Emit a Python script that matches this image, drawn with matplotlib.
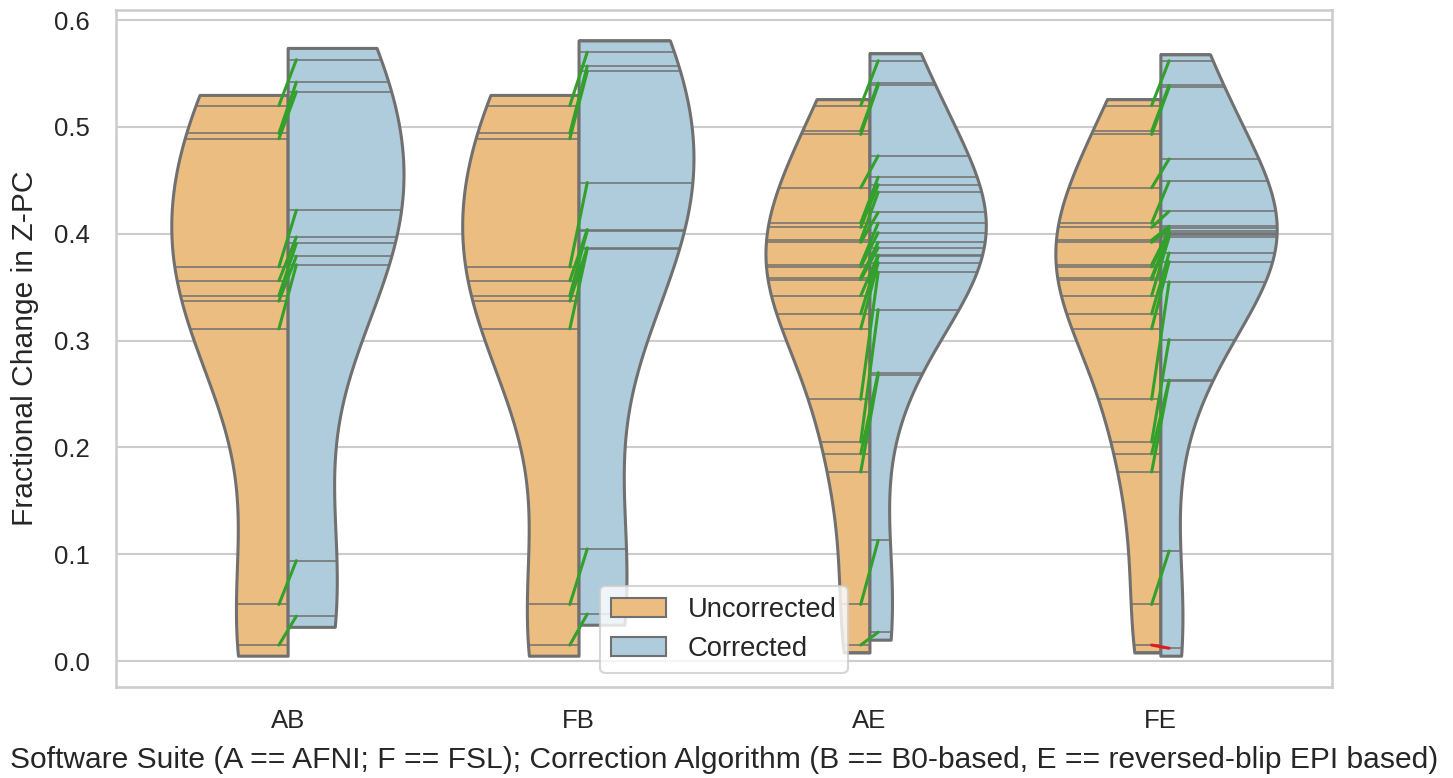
import matplotlib
matplotlib.use("Agg")
import matplotlib.pyplot as plt
from matplotlib.patches import Patch
import seaborn as sns
import pandas as pd

# groups: software suite + correction algorithm
cats = ["AB", "FB", "AE", "FE"]
states = ["Uncorrected", "Corrected"]

# fractional change in Z-PC per subject (sorted, high -> low)
unc_AB = [0.530, 0.520, 0.494, 0.489, 0.369, 0.356, 0.342, 0.337, 0.311, 0.053, 0.015, 0.005]
cor_AB = [0.574, 0.563, 0.542, 0.533, 0.422, 0.397, 0.391, 0.379, 0.371, 0.094, 0.042, 0.032]
unc_FB = [0.530, 0.520, 0.494, 0.489, 0.369, 0.356, 0.342, 0.337, 0.311, 0.053, 0.015, 0.005]
cor_FB = [0.581, 0.570, 0.557, 0.552, 0.448, 0.404, 0.403, 0.387, 0.386, 0.105, 0.044, 0.034]
unc_AE = [0.526, 0.520, 0.496, 0.493, 0.443, 0.410, 0.406, 0.394, 0.392, 0.371, 0.369, 0.359,
          0.357, 0.342, 0.325, 0.311, 0.245, 0.205, 0.194, 0.177, 0.053, 0.015, 0.008]
cor_AE = [0.569, 0.562, 0.541, 0.539, 0.473, 0.453, 0.446, 0.439, 0.420, 0.410, 0.401, 0.392,
          0.387, 0.380, 0.379, 0.373, 0.364, 0.329, 0.270, 0.268, 0.113, 0.027, 0.020]
unc_FE = [0.526, 0.520, 0.496, 0.493, 0.443, 0.410, 0.406, 0.394, 0.392, 0.371, 0.369, 0.359,
          0.357, 0.342, 0.325, 0.311, 0.245, 0.205, 0.194, 0.177, 0.053, 0.015, 0.008]
cor_FE = [0.568, 0.562, 0.539, 0.537, 0.470, 0.449, 0.421, 0.407, 0.405, 0.403, 0.401, 0.400,
          0.399, 0.397, 0.382, 0.374, 0.355, 0.301, 0.263, 0.262, 0.103, 0.012, 0.005]

unc_all = [unc_AB, unc_FB, unc_AE, unc_FE]
cor_all = [cor_AB, cor_FB, cor_AE, cor_FE]

rows = []
for cat, unc, cor in zip(cats, unc_all, cor_all):
    rows += [(cat, v, "Uncorrected") for v in unc]
    rows += [(cat, v, "Corrected") for v in cor]
df = pd.DataFrame(rows, columns=["group", "value", "state"])

sns.set_theme(style="whitegrid", context="talk")
plt.rcParams['font.family'] = ['Liberation Sans', 'DejaVu Sans']

pal = ["#fdbf6f", "#a6cee3"]
edge = "#707070"

fig = plt.figure(figsize=(14.53, 7.78), dpi=100)
ax = fig.add_axes([116 / 1453, 1 - 687 / 778, 1216 / 1453, 677 / 778])

# one call per group so the two halves are scaled against each other (old scale_hue behaviour)
for cat in cats:
    sns.violinplot(data=df[df["group"] == cat], x="group", y="value", hue="state",
                   order=cats, hue_order=states, split=True, inner="stick", cut=0,
                   palette=pal, saturation=0.75, common_norm=True,
                   linewidth=2.2, linecolor=edge, inner_kws=dict(linewidth=1.1),
                   legend=False, ax=ax)

# connect paired subjects: green = increase after correction, red = decrease
for i, (unc, cor) in enumerate(zip(unc_all, cor_all)):
    for u, c in zip(unc[1:-1], cor[1:-1]):
        ax.plot([i - 0.03, i + 0.03], [u, c], color="#33a02c" if c >= u else "#e31a1c",
                lw=2.2, zorder=5)

ax.set_xlim(-0.59, 3.59)
ax.set_ylim(-0.0243, 0.6095)
ax.xaxis.grid(False)
ax.tick_params(axis="x", length=0, pad=16, labelsize=18.5)
ax.tick_params(axis="y", length=0, pad=19, labelsize=18.5)

ax.set_xlabel("Software Suite (A == AFNI; F == FSL); Correction Algorithm (B == B0-based, E == reversed-blip EPI based)",
              fontsize=21.6)
ax.set_ylabel("Fractional Change in Z-PC", fontsize=21.6)
ax.xaxis.set_label_coords(0.5, -0.087)
ax.yaxis.set_label_coords(-0.0633, 0.5)

handles = [Patch(facecolor=sns.desaturate(c, 0.75), edgecolor=edge, linewidth=1.5, label=s)
           for c, s in zip(pal, states)]
ax.legend(handles=handles, loc="lower center", fontsize=19.7, frameon=True)

plt.savefig("out.png", dpi=100)
